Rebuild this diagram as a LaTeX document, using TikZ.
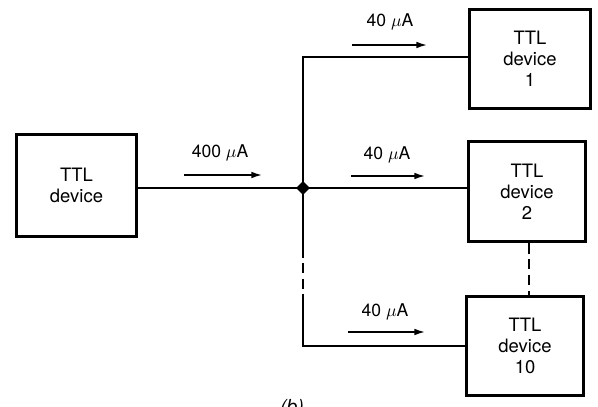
\documentclass[tikz,border=0pt]{standalone}
\usepackage{fontspec}
\setmainfont{TeX Gyre Heros}
\usetikzlibrary{arrows.meta,shapes.geometric}
\begin{document}
\begin{tikzpicture}[x=0.02cm,y=-0.02cm,
  ttl/.style={draw,line width=1.5pt,align=center,inner sep=0pt,
    font=\fontsize{10.5}{12}\selectfont},
  wire/.style={line width=1.1pt},
  current/.style={line width=0.9pt,-{Latex[length=6pt,width=3.8pt]}},
  lbl/.style={font=\fontsize{10}{11}\selectfont,inner sep=0pt},
  gap/.style={wire,dash pattern=on 6pt off 3pt}]
\useasboundingbox (0,0) rectangle (598,406);

% devices
\node[ttl,minimum width=2.41cm,minimum height=2.05cm] (src) at (76.5,185.5) {TTL\\device};
\node[ttl,minimum width=2.43cm,minimum height=1.99cm] (d1) at (530,59) {TTL\\device\\1};
\node[ttl,minimum width=2.35cm,minimum height=2.01cm] (d2) at (527,191.5) {TTL\\device\\2};
\node[ttl,minimum width=2.35cm,minimum height=1.99cm] (d10) at (525,346) {TTL\\device\\10};

% bus
\coordinate (j) at (303,188);
\coordinate (top) at (303,57);
\coordinate (dashA) at (303,247);
\coordinate (dashB) at (303,305);
\coordinate (bot) at (303,346);
\coordinate (col) at (529,0);

\draw[wire] (src.east |- j) -- (j) -- (j -| d2.west);
\draw[wire] (d1.west |- top) -- (top) -- (j) -- (dashA);
\draw[gap] (dashA) -- (dashB);
\draw[wire] (dashB) -- (bot) -- (bot -| d10.west);
\draw[gap] (d2.south -| col) -- (d10.north -| col);
\node[diamond,fill,inner sep=0pt,minimum size=8pt] (dot) at (j) {};

% currents
\coordinate (a0s) at (184,175); \coordinate (a0e) at (262,175);
\coordinate (a1s) at (352,45);  \coordinate (a1e) at (427,45);
\coordinate (a2s) at (351,176); \coordinate (a2e) at (425,176);
\coordinate (a3s) at (348,332); \coordinate (a3e) at (425,332);
\draw[current] (a0s) -- (a0e);
\draw[current] (a1s) -- (a1e);
\draw[current] (a2s) -- (a2e);
\draw[current] (a3s) -- (a3e);
\node[lbl] (l0) at (220,153) {400 $\mu$A};
\node[lbl] (l1) at (390,22) {40 $\mu$A};
\node[lbl] (l2) at (387,155) {40 $\mu$A};
\node[lbl] (l3) at (385,312) {40 $\mu$A};

\node[lbl,anchor=north,font=\fontsize{11}{13}\selectfont\itshape] (cap) at (292,399) {(b)};
\end{tikzpicture}
\end{document}
